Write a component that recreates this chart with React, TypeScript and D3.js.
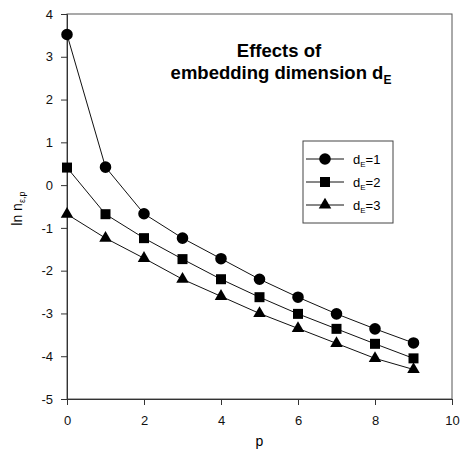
import React, { useEffect, useRef } from 'react';
import * as d3 from 'd3';

const pValues = [0, 1, 2, 3, 4, 5, 6, 7, 8, 9];
const dE1 = [3.52, 0.42, -0.67, -1.24, -1.72, -2.2, -2.62, -3.01, -3.36, -3.69];
const dE2 = [0.41, -0.68, -1.24, -1.73, -2.2, -2.62, -3.01, -3.36, -3.71, -4.05];
const dE3 = [-0.68, -1.24, -1.71, -2.2, -2.6, -3.0, -3.35, -3.7, -4.05, -4.31];
const seriesNames = ['1', '2', '3'];
const seriesShapes = [d3.symbolCircle, d3.symbolSquare, d3.symbolTriangle];
const xTicks = [0, 2, 4, 6, 8, 10];
const yTicks = [-5, -4, -3, -2, -1, 0, 1, 2, 3, 4];

const FONT = '"Liberation Sans", Arial, sans-serif';

const App = () => {
    const ref = useRef<SVGSVGElement>(null);

    useEffect(() => {
        const totalWidth = 460;
        const totalHeight = 456;
        const margin = { top: 14, right: 8, bottom: 57, left: 67 };
        const width = totalWidth - margin.left - margin.right;
        const height = totalHeight - margin.top - margin.bottom;

        const root = d3.select(ref.current);
        root.selectAll('*').remove();
        root.attr('width', totalWidth).attr('height', totalHeight);

        const svg = root.append('g')
            .attr('transform', `translate(${margin.left},${margin.top})`);

        const xScale = d3.scaleLinear().domain([0, 10]).range([0, width]);
        const yScale = d3.scaleLinear().domain([-5, 4]).range([height, 0]);

        // frame (top and right)
        svg.append('rect')
            .attr('x', 0).attr('y', 0)
            .attr('width', width).attr('height', height)
            .attr('fill', 'none')
            .attr('stroke', '#555')
            .attr('stroke-width', 1);

        const fmt = (d: d3.NumberValue) => String(d);
        const xAxis = svg.append('g')
            .attr('transform', `translate(0,${height})`)
            .call(d3.axisBottom(xScale).tickValues(xTicks).tickSize(6).tickPadding(11).tickFormat(fmt));
        const yAxis = svg.append('g')
            .call(d3.axisLeft(yScale).tickValues(yTicks).tickSize(6).tickPadding(8).tickFormat(fmt));

        [xAxis, yAxis].forEach(a => {
            a.select('.domain').attr('stroke', '#333');
            a.selectAll('line').attr('stroke', '#333');
            a.selectAll('text')
                .style('font-family', FONT)
                .style('font-size', '13px')
                .attr('fill', '#111');
        });

        // x label
        svg.append('text')
            .attr('x', xScale(5))
            .attr('y', height + 47)
            .attr('text-anchor', 'middle')
            .style('font-family', FONT)
            .style('font-size', '14px')
            .text('p');

        // y label
        const yl = svg.append('text')
            .attr('transform', `translate(${-margin.left + 22},${yScale(-0.55)}) rotate(-90)`)
            .attr('text-anchor', 'middle')
            .style('font-family', FONT)
            .style('font-size', '14px');
        yl.append('tspan').text('ln n');
        yl.append('tspan').attr('dy', 3).style('font-size', '9px').text('ε,p');

        // title
        const title = svg.append('g').style('font-family', FONT).style('font-weight', 'bold');
        title.append('text')
            .attr('x', 279 - margin.left)
            .attr('y', 57 - margin.top)
            .attr('text-anchor', 'middle')
            .style('font-size', '18.5px')
            .text('Effects of');
        const t2 = title.append('text')
            .attr('x', 281 - margin.left)
            .attr('y', 79 - margin.top)
            .attr('text-anchor', 'middle')
            .style('font-size', '18.5px');
        t2.append('tspan').text('embedding dimension d');
        t2.append('tspan').attr('dy', 5).style('font-size', '12px').text('E');

        const line = d3.line<number>()
            .x((d, i) => xScale(pValues[i]))
            .y(d => yScale(d));

        const allSeries = [dE1, dE2, dE3];
        const sizes = [105, 100, 68];

        allSeries.forEach((series, si) => {
            svg.append('path')
                .datum(series)
                .attr('fill', 'none')
                .attr('stroke', '#111')
                .attr('stroke-width', 1)
                .attr('d', line);
            svg.selectAll(`.pt${si}`)
                .data(series)
                .enter()
                .append('path')
                .attr('class', `pt${si}`)
                .attr('transform', (d, i) => `translate(${xScale(pValues[i])},${yScale(d)})`)
                .attr('d', d3.symbol().type(seriesShapes[si]).size(sizes[si])())
                .attr('fill', '#000');
        });

        // legend
        const lg = svg.append('g').attr('transform', `translate(${303 - margin.left},${141 - margin.top})`);
        lg.append('rect')
            .attr('width', 90).attr('height', 82)
            .attr('fill', '#fff')
            .attr('stroke', '#444');
        seriesNames.forEach((name, i) => {
            const yy = 18 + i * 23;
            lg.append('line')
                .attr('x1', 3).attr('x2', 41)
                .attr('y1', yy).attr('y2', yy)
                .attr('stroke', '#111');
            lg.append('path')
                .attr('transform', `translate(22,${yy})`)
                .attr('d', d3.symbol().type(seriesShapes[i]).size(sizes[i])())
                .attr('fill', '#000');
            const tx = lg.append('text')
                .attr('x', 50)
                .attr('y', yy + 5)
                .style('font-family', FONT)
                .style('font-size', '13px');
            tx.append('tspan').text('d');
            tx.append('tspan').attr('dy', 3).style('font-size', '8px').text('E');
            tx.append('tspan').attr('dy', -3).text('=' + name);
        });
    }, []);

    return (
        <div style={{ position: 'absolute', left: 0, top: 0 }}>
            <svg ref={ref} />
        </div>
    );
};

export default App;
